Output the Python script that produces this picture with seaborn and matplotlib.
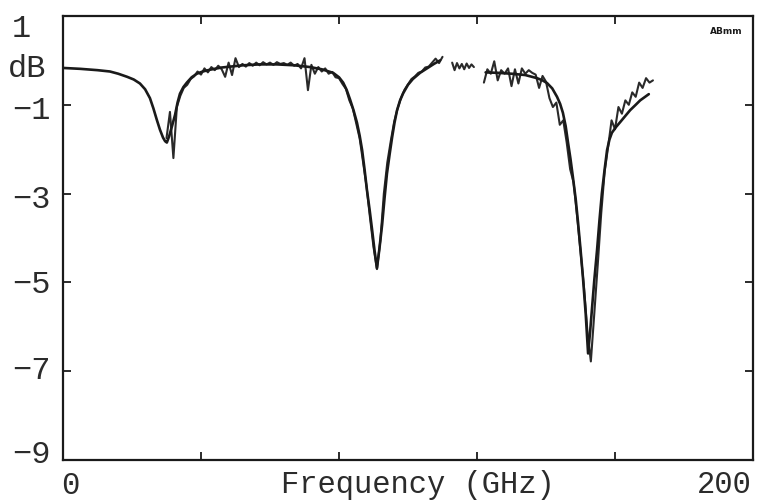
import numpy as np
import pandas as pd
import matplotlib
matplotlib.use("Agg")
import matplotlib.pyplot as plt
import matplotlib.transforms as mtransforms
import seaborn as sns

# ---------------- data ----------------
# theory (smooth) curve, two frequency bands
theory1_f = [0, 5, 10, 13.6, 16, 18.6, 20.5, 22.3, 23.8, 25.2, 26.2, 27.2, 28.1, 29.0, 29.6,
             30.1, 30.8, 31.6, 32.5, 33.2, 33.9, 34.9, 35.9, 37.3, 38.8, 40.5, 42.6, 46, 52.2,
             57, 62.0, 67, 71.6, 75, 78.3, 80, 81.2, 82.2, 83.2, 84.2, 85.2, 86.0, 86.7, 87.4,
             88.1, 88.9, 89.6, 90.3, 91.0, 91.7, 92.5, 93.2, 93.9, 94.7, 95.4, 96.1, 96.8, 97.7,
             98.6, 100, 101.4, 103.5, 105.5, 107.5, 109.3]
theory1_db = [-0.17, -0.19, -0.22, -0.25, -0.30, -0.37, -0.43, -0.52, -0.65, -0.85, -1.08, -1.34,
              -1.56, -1.74, -1.82, -1.85, -1.70, -1.48, -1.22, -0.95, -0.75, -0.60, -0.50, -0.38,
              -0.30, -0.25, -0.21, -0.16, -0.11, -0.09, -0.09, -0.11, -0.15, -0.20, -0.28, -0.38,
              -0.50, -0.66, -0.88, -1.12, -1.40, -1.70, -2.02, -2.45, -2.92, -3.38, -3.82, -4.28,
              -4.68, -4.25, -3.70, -3.10, -2.55, -2.10, -1.73, -1.40, -1.13, -0.90, -0.74, -0.55,
              -0.42, -0.28, -0.18, -0.08, 0.00]

theory2_f = [122.5, 126, 130, 134, 137.4, 139, 140.3, 141.8, 143.2, 144.1, 144.9, 145.7, 146.4,
             147.1, 147.8, 148.6, 149.3, 150.0, 150.7, 151.5, 152.2, 152.8, 153.3, 154.0, 154.8,
             155.5, 156.2, 157.0, 157.7, 158.4, 159.1, 160.3, 161.5, 163, 164.4, 166, 167.3, 169.8]
theory2_db = [-0.27, -0.28, -0.30, -0.33, -0.40, -0.45, -0.51, -0.63, -0.82, -0.98, -1.18, -1.48,
              -1.86, -2.22, -2.63, -3.12, -3.66, -4.25, -4.88, -5.70, -6.60, -6.10, -5.62, -4.95,
              -4.27, -3.60, -2.99, -2.45, -2.02, -1.78, -1.63, -1.50, -1.39, -1.25, -1.12, -1.00,
              -0.90, -0.76]

# measured (noisy) curve: three sweeps
measA_start, measA_stop = 30, 110
measA_db = [-1.75, -1.16, -2.20, -1.05, -0.80, -0.62, -0.55, -0.42, -0.36, -0.25,
            -0.32, -0.18, -0.27, -0.15, -0.22, -0.12, -0.20, -0.37, -0.05, -0.33,
            0.05, -0.15, -0.08, -0.14, -0.06, -0.12, -0.05, -0.11, -0.04, -0.09,
            -0.05, -0.10, -0.04, -0.08, -0.06, -0.10, -0.05, -0.12, -0.08, -0.18,
            0.05, -0.67, -0.10, -0.30, -0.15, -0.25, -0.18, -0.30, -0.26, -0.38,
            -0.40, -0.53, -0.64, -0.90, -1.08, -1.42, -1.76, -2.30, -2.85, -3.55,
            -4.20, -4.70, -4.05, -3.00, -2.30, -1.82, -1.38, -1.08, -0.84, -0.66,
            -0.54, -0.42, -0.36, -0.28, -0.25, -0.16, -0.14, -0.05, 0.04, -0.06, 0.08]

measB_f = [112.8, 113.5, 114.2, 114.9, 115.6, 116.3, 117.0, 117.7, 118.4, 119.1]
measB_db = [-0.05, -0.22, -0.06, -0.18, -0.08, -0.20, -0.07, -0.17, -0.09, -0.15]

measC_start, measC_stop = 122, 171
measC_db = [-0.50, -0.20, -0.30, -0.02, -0.45, -0.22, -0.30, -0.18, -0.58, -0.20,
            -0.52, -0.18, -0.30, -0.22, -0.28, -0.32, -0.62, -0.35, -0.48, -0.85,
            -1.05, -0.95, -1.45, -1.35, -1.85, -2.45, -2.75, -3.50, -4.30, -5.10,
            -6.10, -6.78, -5.70, -4.60, -3.45, -2.50, -1.95, -1.35, -1.55, -1.05,
            -1.20, -0.90, -1.00, -0.72, -0.82, -0.50, -0.62, -0.40, -0.50, -0.45]

x_ticks = [40, 80, 120, 160]
y_ticks = [-1, -3, -5, -7]
y_labels = ["1", "−1", "−3", "−5", "−7", "−9"]
y_label_vals = [0.70, -1.15, -3.15, -5.05, -7.0, -8.88]

# ---------------- frames ----------------
measA_f = np.linspace(measA_start, measA_stop, len(measA_db))
measC_f = np.linspace(measC_start, measC_stop, len(measC_db))

theory = pd.concat([
    pd.DataFrame({"f": theory1_f, "db": theory1_db, "seg": "t1"}),
    pd.DataFrame({"f": theory2_f, "db": theory2_db, "seg": "t2"}),
], ignore_index=True)
meas = pd.concat([
    pd.DataFrame({"f": measA_f, "db": measA_db, "seg": "mA"}),
    pd.DataFrame({"f": measB_f, "db": measB_db, "seg": "mB"}),
    pd.DataFrame({"f": measC_f, "db": measC_db, "seg": "mC"}),
], ignore_index=True)

# ---------------- plot ----------------
sns.set_theme(style="white")
plt.rcParams["font.family"] = ["Liberation Mono", "DejaVu Sans Mono", "DejaVu Sans"]

fig = plt.figure(figsize=(7.59, 5.03), dpi=100)
ax = fig.add_axes([63 / 759, 1 - 460 / 503, 690 / 759, 444 / 503])

ink = "#1a1a1a"
txt = "#2b2b2b"
sns.lineplot(data=meas, x="f", y="db", units="seg", estimator=None, sort=False,
             color="#2a2a2a", linewidth=1.5, ax=ax)
sns.lineplot(data=theory, x="f", y="db", units="seg", estimator=None, sort=False,
             color=ink, linewidth=1.9, ax=ax)

ax.set_xlim(0, 200)
ax.set_ylim(-9, 1)
for s in ax.spines.values():
    s.set_color(ink)
    s.set_linewidth(1.6)

ax.set_xticks(x_ticks)
ax.set_yticks(y_ticks)
ax.tick_params(axis="both", which="both", direction="in", length=6, width=1.3,
               color=ink, top=True, right=True, bottom=True, left=True,
               labelbottom=False, labelleft=False)
ax.set_xlabel("")
ax.set_ylabel("")

# y labels on left
trans = mtransforms.blended_transform_factory(fig.transFigure, ax.transData)
for lab, v in zip(y_labels, y_label_vals):
    ax.text(12 / 759, v, lab, transform=trans, ha="left", va="center",
            fontsize=23, color=txt)
ax.text(8 / 759, -0.2, "dB", transform=trans, ha="left", va="center",
        fontsize=23, color=txt)

# x labels
fig.text(70 / 759, 1 - 486 / 503, "0", ha="center", va="center", fontsize=22, color=txt)
fig.text(752 / 759, 1 - 485 / 503, "200", ha="right", va="center", fontsize=22, color=txt)
fig.text(418 / 759, 1 - 485 / 503, "Frequency (GHz)", ha="center", va="center",
         fontsize=22, color=txt)

# small plotter tag
ax.text(0.985, 0.965, "ABmm", transform=ax.transAxes, ha="right", va="center",
        fontsize=6.5, fontweight="bold", color=ink, family="DejaVu Sans")

fig.savefig("out.png", dpi=100, facecolor="white")
